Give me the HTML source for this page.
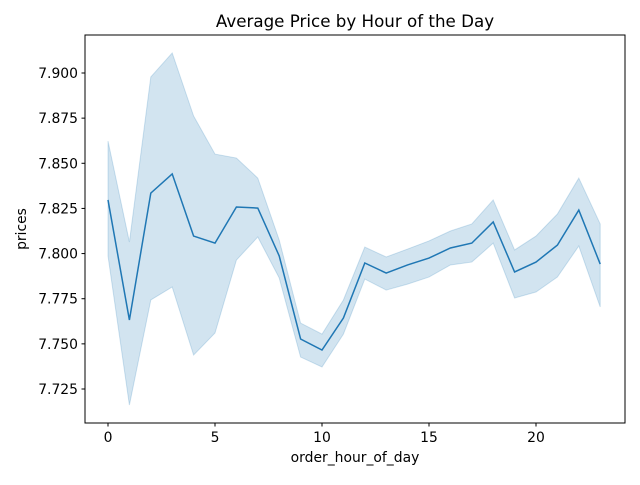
<!DOCTYPE html>
<html><head><meta charset="utf-8"><style>
body{margin:0;background:#fff;}
svg text{font-family:"DejaVu Sans","Liberation Sans",sans-serif;fill:#000;}
</style></head><body>
<svg id="chart" width="640" height="480">
<text x="355" y="27" font-size="16.7" text-anchor="middle">Average Price by Hour of the Day</text>
<g id="plot"></g>
<rect x="85" y="35" width="540" height="388" fill="none" stroke="#000" stroke-width="1"/>
<text x="355" y="462" font-size="13.9" text-anchor="middle">order_hour_of_day</text>
<text x="26" y="229" font-size="13.9" text-anchor="middle" transform="rotate(-90 26 229)">prices</text>
</svg>
<script>
const hours=[0,1,2,3,4,5,6,7,8,9,10,11,12,13,14,15,16,17,18,19,20,21,22,23];
const meanPrice=[7.8297,7.7632,7.8335,7.8441,7.8097,7.8058,7.8258,7.8252,7.7987,7.7527,7.7466,7.7643,7.7948,7.7892,7.7937,7.7975,7.8031,7.8058,7.8175,7.7898,7.7953,7.8047,7.8241,7.7942];
const upperCI=[7.8623,7.8064,7.8978,7.9111,7.8762,7.8551,7.8529,7.8418,7.8075,7.7615,7.7554,7.7743,7.8036,7.7981,7.8025,7.8070,7.8125,7.8164,7.8297,7.8020,7.8097,7.8219,7.8418,7.8164];
const lowerCI=[7.7987,7.7161,7.7743,7.7815,7.7438,7.7560,7.7964,7.8092,7.7865,7.7427,7.7372,7.7554,7.7859,7.7798,7.7831,7.7870,7.7937,7.7953,7.8058,7.7754,7.7787,7.7870,7.8042,7.7704];
const xTicks=[0,5,10,15,20];
const yTicks=[7.725,7.750,7.775,7.800,7.825,7.850,7.875,7.900];
const NS="http://www.w3.org/2000/svg";
const X=h=>108+h*21.4;
const Y=v=>73+(7.9-v)/0.025*45.143;
const g=document.getElementById('plot');
function mk(t,a){const e=document.createElementNS(NS,t);for(const k in a)e.setAttribute(k,a[k]);return e;}
let band=hours.map((h,i)=>X(h)+','+Y(upperCI[i])).join(' ')+' '+hours.slice().reverse().map((h,j)=>{const i=hours.length-1-j;return X(h)+','+Y(lowerCI[i]);}).join(' ');
const poly=mk('polygon',{points:band,fill:'#1f77b4','fill-opacity':0.2,stroke:'#1f77b4','stroke-opacity':0.2});


g.appendChild(poly);
const line=mk('polyline',{points:hours.map((h,i)=>X(h)+','+Y(meanPrice[i])).join(' '),fill:'none',stroke:'#1f77b4','stroke-width':1.5});


g.appendChild(line);
xTicks.forEach(t=>{
  const l=mk('line',{x1:X(t),x2:X(t),y1:423,y2:426.5,stroke:'#000'});
  
  
  g.appendChild(l);
  const tx=mk('text',{x:X(t),y:442,'font-size':13.9,'text-anchor':'middle'});tx.textContent=t;
  
  
  g.appendChild(tx);
});
yTicks.forEach(t=>{
  const l=mk('line',{x1:81.5,x2:85,y1:Y(t),y2:Y(t),stroke:'#000'});
  
  
  g.appendChild(l);
  const tx=mk('text',{x:78,y:Y(t)+5,'font-size':13.9,'text-anchor':'end'});tx.textContent=t.toFixed(3);
  
  
  g.appendChild(tx);
});
</script>
</body></html>
